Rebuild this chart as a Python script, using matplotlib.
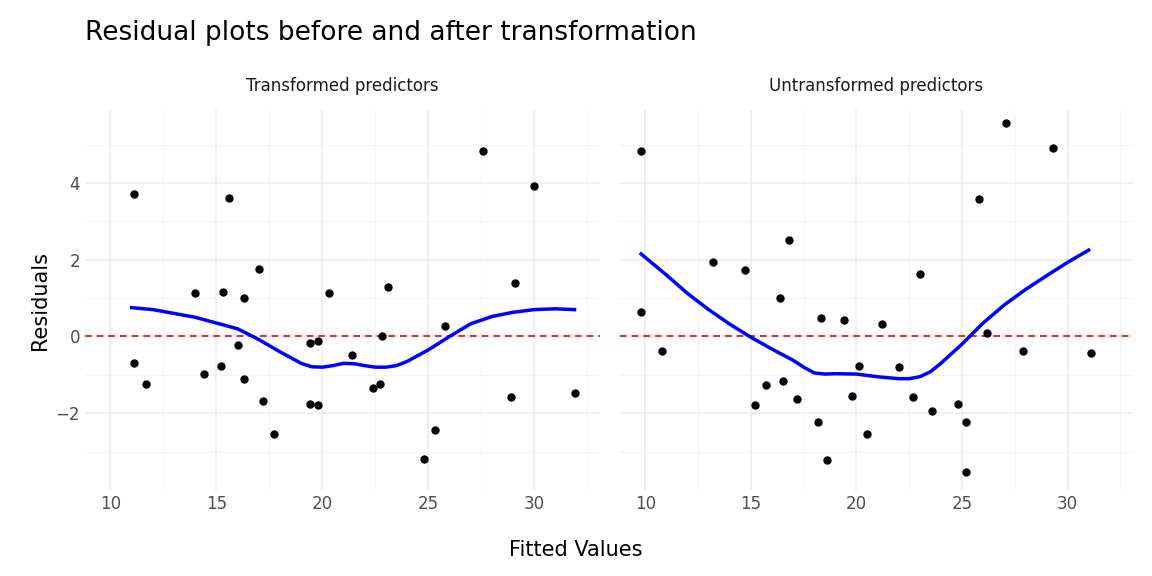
import matplotlib
matplotlib.use("Agg")
import matplotlib.pyplot as plt
import numpy as np

panels = ["Transformed predictors", "Untransformed predictors"]
t_x = [11.1,11.1,11.7,14.0,14.4,15.2,15.3,15.6,16.0,16.3,16.3,17.0,17.2,17.7,19.4,19.4,19.8,19.8,20.3,21.4,22.4,22.7,22.8,23.1,24.8,25.3,25.8,27.6,28.9,29.1,30.0,31.9]
t_y = [3.7,-0.68,-1.23,1.12,-0.97,-0.76,1.15,3.6,-0.23,0.99,-1.1,1.75,-1.68,-2.53,-1.75,-0.18,-0.13,-1.78,1.12,-0.47,-1.34,-1.23,0.0,1.3,-3.2,-2.43,0.28,4.83,-1.58,1.38,3.93,-1.48]
u_x = [9.8,9.8,10.8,13.2,14.7,15.2,15.7,16.4,16.5,16.8,17.2,18.2,18.3,18.6,19.4,19.8,20.1,20.5,21.2,22.0,22.7,23.0,23.6,24.8,25.2,25.2,25.8,26.2,27.1,27.9,29.3,31.1]
u_y = [4.83,0.63,-0.39,1.93,1.72,-1.78,-1.27,0.99,-1.15,2.52,-1.63,-2.22,0.49,-3.23,0.44,-1.55,-0.78,-2.55,0.33,-0.79,-1.58,1.63,-1.93,-1.75,-2.24,-3.53,3.58,0.08,5.55,-0.39,4.9,-0.43]
ts_x = [11,12,13,14,15,16,17,18,19,19.5,20,20.5,21,21.5,22,22.5,23,23.5,24,25,26,27,28,29,30,31,31.9]
ts_y = [0.75,0.7,0.6,0.5,0.35,0.2,-0.08,-0.4,-0.7,-0.79,-0.8,-0.76,-0.7,-0.71,-0.76,-0.8,-0.8,-0.76,-0.65,-0.35,0.0,0.33,0.52,0.63,0.7,0.72,0.7]
us_x = [9.8,11,12,13,14,15,16,17,17.5,18,18.5,19,20,21,22,22.5,23,23.5,24,25,26,27,28,29,30,31]
us_y = [2.15,1.6,1.12,0.7,0.32,-0.02,-0.33,-0.62,-0.8,-0.95,-0.98,-0.97,-0.98,-1.05,-1.1,-1.1,-1.05,-0.92,-0.7,-0.2,0.35,0.82,1.22,1.58,1.93,2.25]

fig = plt.figure(figsize=(11.52,5.76), dpi=100)
axL = fig.add_axes([85/1152, 1-490/576, 515/1152, 380/576])
axR = fig.add_axes([620/1152, 1-490/576, 513/1152, 380/576], sharey=axL)
data = [(axL, t_x, t_y, ts_x, ts_y), (axR, u_x, u_y, us_x, us_y)]
for i, (ax, x, y, sx, sy) in enumerate(data):
    ax.set_xlim(8.8, 33.1)
    ax.set_ylim(-4.0, 5.9)
    ax.set_xticks([10,15,20,25,30])
    ax.set_xticks([12.5,17.5,22.5,27.5,32.5], minor=True)
    ax.set_yticks([-2,0,2,4])
    ax.set_yticks([-3,-1,1,3,5], minor=True)
    ax.grid(True, which='major', color='#ebebeb', lw=1.1)
    ax.grid(True, which='minor', color='#f3f3f3', lw=0.6)
    ax.set_axisbelow(True)
    for s in ax.spines.values():
        s.set_visible(False)
    ax.tick_params(which='both', length=0, labelsize=12, colors='#4d4d4d')
    ax.axhline(0, color='red', ls=(0,(4,3)), lw=1.2)
    ax.plot(sx, sy, color='blue', lw=2.5, solid_joinstyle='round')
    ax.scatter(x, y, s=25, color='black', zorder=3)
    ax.set_title(panels[i], fontsize=12, color='#1a1a1a', pad=14)
plt.setp(axR.get_yticklabels(), visible=False)
axL.set_ylabel("Residuals", fontsize=15)
fig.text(0.5, 0.035, "Fitted Values", ha='center', fontsize=15)
fig.text(85/1152, 0.93, "Residual plots before and after transformation", fontsize=19)
fig.savefig("out.png", dpi=100, facecolor='white')
